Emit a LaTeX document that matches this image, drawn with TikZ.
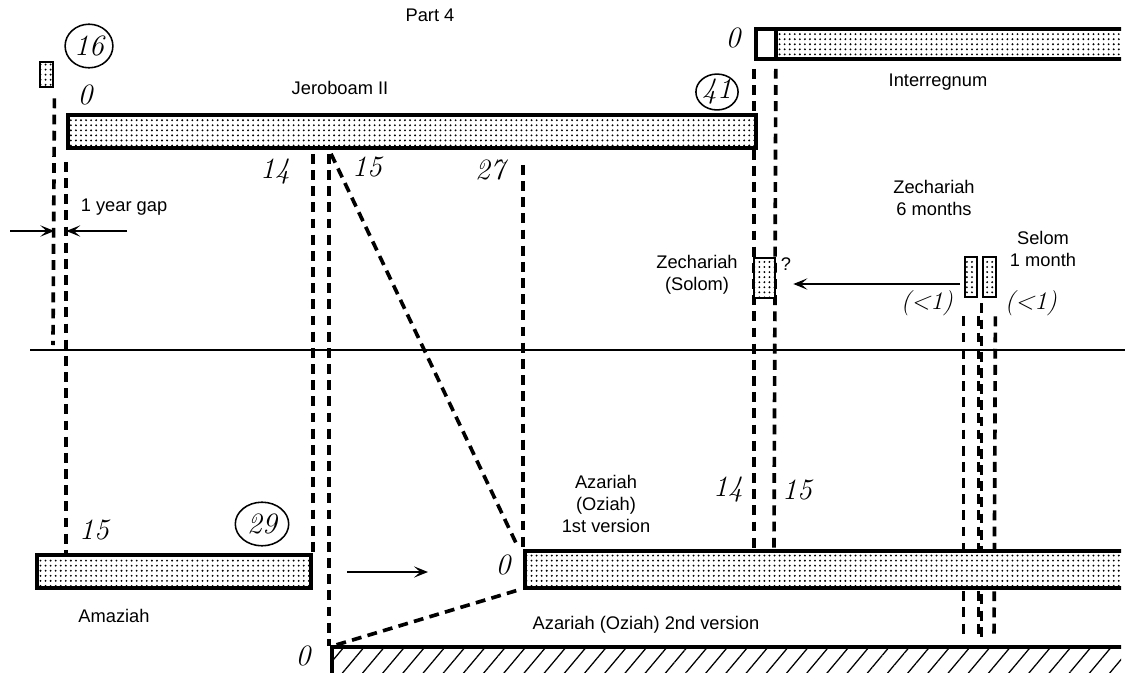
\documentclass[tikz,border=0pt]{standalone}
\usepackage{fontspec}
\setmainfont{Latin Modern Roman}
\newfontfamily\labelfont{Liberation Sans}
\usepackage{tikz}
\usetikzlibrary{arrows.meta,patterns.meta,fit,positioning,shapes.geometric,backgrounds}

\begin{document}
\begin{tikzpicture}[x=0.025cm, y=-0.025cm,
        bar/.style={draw, line width=2.6pt, inner sep=0pt, preaction={fill=white}, pattern={Dots[distance=3.6pt, radius=0.75pt]}},
        hatchbar/.style={draw, line width=2.6pt, inner sep=0pt, preaction={fill=white}, pattern={Lines[angle=50, distance=11pt, line width=0.9pt]}},
        guide/.style={line width=2.6pt, dash pattern=on 7pt off 4.5pt},
        arrow/.style={-{Stealth[length=10pt, width=8pt, inset=4.5pt]}, line width=1.6pt},
        lbl/.style={font=\labelfont\fontsize{13}{15.6}\selectfont, align=center, inner sep=1pt},
        num/.style={font=\fontsize{21}{21}\selectfont\itshape, inner sep=1pt},
        ring/.style={num, draw, ellipse, line width=1.1pt, inner sep=0pt}
    ]
    \useasboundingbox (0,0) rectangle (1125,672);
    \clip (0,0) rectangle (1121,672);
    % Barras
    \node[bar, line width=2pt, fit={(40,62)(53,87)}] (prev) {};
    \node[bar, fit={(68,115)(756,148)}] (jero) {};
    \node[bar, fit={(756,29)(1135,59)}] (inter) {};
    \node[draw, line width=2.6pt, fill=white, inner sep=0pt, fit={(756,29)(776,59)}] (gapbox) {};
    \node[bar, fit={(37,555)(311,588)}] (amaz) {};
    \node[bar, fit={(525,551)(1135,588)}] (azar) {};
    \node[hatchbar, fit={(332,647)(1135,690)}] (azarB) {};
    \node[bar, line width=2pt, fit={(754,258)(775,298)}] (zech) {};
    \node[bar, line width=2pt, fit={(965,257)(977,297)}] (zechM) {};
    \node[bar, line width=2pt, fit={(983,257)(996,297)}] (selom) {};
    \coordinate (d15) at (329,0);
    % Linhas
    \begin{scope}[on background layer]
    \draw[guide] (prev.south east) ++(0,10) -- (53,345);
    \draw[guide] (jero.south west) ++(0,12) -- (amaz.north -| jero.west);
    \draw[guide] (jero.south -| amaz.east) ++(0,4) -- (amaz.north east);
    \draw[guide] (jero.south -| d15) ++(0,4) -- (azarB.north -| d15) ++(0,-3);
    \draw[guide, shorten >=3pt] (jero.south -| d15) ++(2,4) -- ([xshift=-3pt]azar.north west);
    \draw[guide] (jero.south -| azar.west) ++(0,15) -- (azar.north west);
    \draw[guide, shorten <=2pt, shorten >=1pt] ([xshift=-3pt]azar.south west) -- (azarB.north west);
    \draw[guide] (inter.south west) ++(0,8) -- (azar.north -| inter.west);
    \draw[guide] (gapbox.south east) ++(-2,8) -- (azar.north -| 774,0);
    \draw[guide, shorten >=5pt] (zechM.south west) ++(0,18) -- (azarB.north -| zechM.west);
    \draw[guide, shorten >=5pt] (zechM.south east) ++(0,18) -- (azarB.north -| zechM.east);
    \draw[guide, shorten >=5pt] (selom.south west) ++(0,5) -- (azarB.north -| selom.west);
    \draw[guide, shorten >=5pt] (selom.south east) ++(-2,18) -- (azarB.north -| 994,0);
    \draw[line width=1.8pt] (30,350) -- (1125,350);
    \end{scope}
    % Setas
    \coordinate (gapL) at (10,231);
    \coordinate (gapR) at (127,231);
    \coordinate (zarr) at (960,284);
    \coordinate (shift) at (347,572);
    \draw[arrow] (gapL) -- (gapL -| prev.east);
    \draw[arrow] (gapR) -- (gapR -| jero.west);
    \draw[arrow, shorten >=12pt] (zarr) -- (zarr -| zech.east);
    \draw[arrow] (shift) -- ++(81,0);
    % Textos
    \node[lbl] (part) at (430,15) {Part 4};
    \node[ring, minimum width=34pt, minimum height=31pt] (r16) at (89,46) {16};
    \node[num] (j0) at (85,95) {0};
    \node[lbl] (jlab) at (340,88) {Jeroboam II};
    \node[ring, minimum width=30pt, minimum height=25pt] (r41) at (717,92) {41};
    \node[num] (i0) at (733,38) {0};
    \node[lbl] (ilab) at (938,82) {Interregnum};
    \node[num] (j14) at (275,172) {14};
    \node[num] (j15) at (367,167) {15};
    \node[num] (j27) at (490,170) {27};
    \node[lbl] (gap) at (124,207) {1 year gap};
    \node[lbl] (zlab) at (697,275) {Zechariah\\(Solom)};
    \node[lbl] (q) at (786,264) {?};
    \node[lbl] (zmlab) at (934,198) {Zechariah\\6 months};
    \node[lbl] (slab) at (1043,249) {Selom\\1 month};
    \node[num, font=\fontsize{18}{18}\selectfont\itshape] (lt1) at (927,303) {(<1)};
    \node[num, font=\fontsize{18}{18}\selectfont\itshape] (lt2) at (1031,303) {(<1)};
    \node[num] (a14) at (728,490) {14};
    \node[num] (a15) at (797,490) {15};
    \node[lbl] (alab) at (606,504) {Azariah\\(Oziah)\\1st version};
    \node[num] (m15) at (94,530) {15};
    \node[ring, minimum width=38pt, minimum height=31pt] (r29) at (262,524) {29};
    \node[lbl] (mlab) at (114,616) {Amaziah};
    \node[num] (a0) at (503,565) {0};
    \node[lbl] (blab) at (646,625) {Azariah (Oziah) 2nd version};
    \node[num] (b0) at (303,656) {0};
\end{tikzpicture}
\end{document}
